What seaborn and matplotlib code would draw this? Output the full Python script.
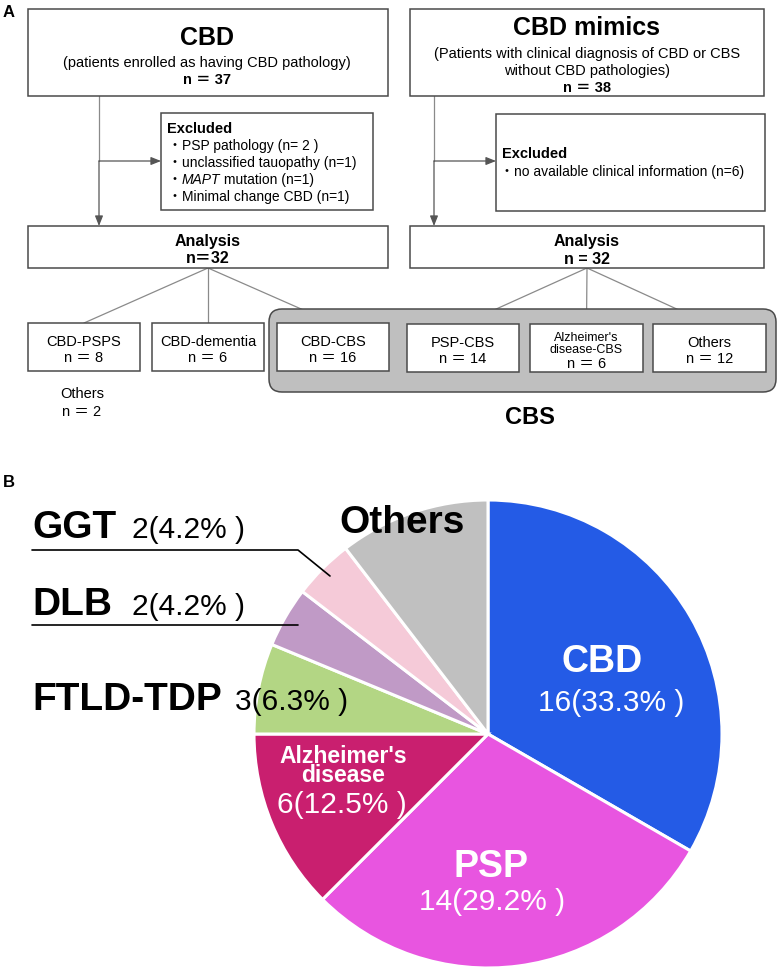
import math
import matplotlib
matplotlib.use('Agg')
import matplotlib.pyplot as plt
import seaborn as sns
from matplotlib.patches import Rectangle, FancyBboxPatch

sns.set_theme(style='white')
plt.rcParams['font.family'] = ['Liberation Sans', 'Noto Sans CJK JP']

# ---- data ----
# panel A
cbd_total = 37
mimic_total = 38
cbd_excluded = ['PSP pathology (n= 2 )', 'unclassified tauopathy (n=1)',
                'MAPT mutation (n=1)', 'Minimal change CBD (n=1)']
mimic_excluded = ['no available clinical information (n=6)']
cbd_analysis_n = 32
mimic_analysis_n = 32
cbd_groups = ['CBD-PSPS', 'CBD-dementia', 'CBD-CBS']
cbd_group_n = [8, 6, 16]
cbd_other_n = 2
mimic_groups = ['PSP-CBS', "Alzheimer's\ndisease-CBS", 'Others']
mimic_group_n = [14, 6, 12]

# panel B
pie_labels = ['CBD', 'PSP', "Alzheimer's\ndisease", 'FTLD-TDP', 'DLB', 'GGT', 'Others']
pie_counts = [16, 14, 6, 3, 2, 2, 5]
pie_colors = ['#245be6', '#e855e0', '#c91f6f', '#b3d684', '#c09ac6', '#f5cad8', '#c0c0c0']

edge = '#4a4a4a'
conn = '#8a8a8a'

fig = plt.figure(figsize=(7.79, 9.70), dpi=100)

# ---- pie (panel B) ----
ax_pie = fig.add_axes([254 / 779, 1 / 970, 468 / 779, 468 / 970])
ax_pie.pie(pie_counts, colors=pie_colors, startangle=90, counterclock=False,
           radius=1, wedgeprops=dict(edgecolor='white', linewidth=2.2))
ax_pie.set_xlim(-1, 1)
ax_pie.set_ylim(-1, 1)
ax_pie.axis('off')

# ---- overlay in pixel coordinates ----
ax = fig.add_axes([0, 0, 1, 1])
ax.set_xlim(0, 779)
ax.set_ylim(970, 0)
ax.axis('off')
ax.patch.set_visible(False)


def box(x0, y0, x1, y1, fc='white'):
    ax.add_patch(Rectangle((x0, y0), x1 - x0, y1 - y0, fc=fc, ec=edge, lw=1.1, zorder=2))


def line(xs, ys):
    ax.plot(xs, ys, color=conn, lw=0.9, zorder=1)


def arrow(x0, y0, x1, y1):
    ax.annotate('', xy=(x1, y1), xytext=(x0, y0),
                arrowprops=dict(arrowstyle='-|>,head_length=0.5,head_width=0.2',
                                color='#555555', lw=0.9, shrinkA=0, shrinkB=0), zorder=1)


def txt(x, y, s, size, bold=False, ha='center', color='black', **kw):
    # y is the baseline of the last line
    return ax.text(x, y, s, fontsize=size, fontweight='bold' if bold else 'normal',
                   ha=ha, va='baseline', color=color, zorder=3, **kw)


txt(3, 17, 'A', 12, bold=True, ha='left')
txt(3, 487, 'B', 12, bold=True, ha='left')

# CBS grey frame
ax.add_patch(FancyBboxPatch((269, 310), 507, 83, boxstyle='round,pad=0,rounding_size=13',
                            fc='#bfbfbf', ec=edge, lw=1.1, zorder=1.5))
txt(530, 424, 'CBS', 17, bold=True)

# left column
box(28, 10, 388, 97)
txt(207, 45, 'CBD', 18, bold=True)
txt(207, 67, '(patients enrolled as having CBD pathology)', 10.5)
txt(207, 84, f'n ＝ {cbd_total}', 10.5, bold=True)

line([99, 99], [97, 162])
arrow(99, 162, 99, 227)
arrow(99, 162, 161, 162)

box(161, 114, 373, 211)
txt(167, 133, 'Excluded', 10.5, bold=True, ha='left')
ex_y = [150, 167, 184, 201]
for s, y in zip(cbd_excluded, ex_y):
    txt(168, y, '・', 10, ha='left')
    if s.startswith('MAPT'):
        t = txt(182, y, 'MAPT', 10, ha='left', style='italic')
        fig.canvas.draw()
        bb = t.get_window_extent(fig.canvas.get_renderer())
        xe = ax.transData.inverted().transform((bb.x1, bb.y0))[0]
        txt(xe, y, ' ' + s[4:].strip(), 10, ha='left')
    else:
        txt(182, y, s, 10, ha='left')

box(28, 227, 388, 269)
txt(208, 246, 'Analysis', 11.5, bold=True)
txt(208, 263, f'n＝{cbd_analysis_n}', 11.5, bold=True)

cbd_box_x = [(28, 140), (152, 264), (277, 389)]
for (x0, x1), name, n in zip(cbd_box_x, cbd_groups, cbd_group_n):
    xc = (x0 + x1) / 2
    line([208, xc], [269, 324])
    box(x0, 324, x1, 372)
    txt(xc, 346, name, 10.5)
    txt(xc, 362, f'n ＝ {n}', 10.5)

txt(82, 398, 'Others', 10.5)
txt(82, 416, f'n ＝ {cbd_other_n}', 10.5)

# right column
box(410, 10, 764, 97)
txt(587, 35, 'CBD mimics', 18, bold=True)
txt(587, 58, '(Patients with clinical diagnosis of CBD or CBS', 10.5)
txt(587, 75, 'without CBD pathologies)', 10.5)
txt(587, 92, f'n ＝ {mimic_total}', 10.5, bold=True)

line([434, 434], [97, 162])
arrow(434, 162, 434, 227)
arrow(434, 162, 496, 162)

box(496, 115, 765, 212)
txt(502, 158, 'Excluded', 10.5, bold=True, ha='left')
for i, s in enumerate(mimic_excluded):
    txt(500, 176 + 17 * i, '・', 10, ha='left')
    txt(514, 176 + 17 * i, s, 10, ha='left')

box(410, 227, 764, 269)
txt(587, 246, 'Analysis', 11.5, bold=True)
txt(587, 264, f'n = {mimic_analysis_n}', 11.5, bold=True)

mimic_box_x = [(407, 519), (530, 643), (653, 766)]
for (x0, x1), name, n in zip(mimic_box_x, mimic_groups, mimic_group_n):
    xc = (x0 + x1) / 2
    line([587, xc], [269, 325])
    box(x0, 325, x1, 373)
    if '\n' in name:
        txt(xc, 353, name, 9, linespacing=0.95)
        txt(xc, 368, f'n ＝ {n}', 10.5)
    else:
        txt(xc, 347, name, 10.5)
        txt(xc, 363, f'n ＝ {n}', 10.5)

# ---- pie labels ----
total = sum(pie_counts)


def pct_label(n):
    p = math.floor(n / total * 1000 + 0.5) / 10
    return f'{n}({p:.1f}% )'


lab = dict(zip(pie_labels, pie_counts))
txt(602, 672, 'CBD', 27, bold=True, color='white')
txt(611, 711, pct_label(lab['CBD']), 21.5, color='white')
txt(491, 877, 'PSP', 27, bold=True, color='white')
txt(492, 910, pct_label(lab['PSP']), 21.5, color='white')
txt(343, 782, "Alzheimer's\ndisease", 16.5, bold=True, color='white', linespacing=0.78)
txt(342, 813, pct_label(lab["Alzheimer's\ndisease"]), 21.5, color='white')

txt(32, 710, 'FTLD-TDP', 28, bold=True, ha='left')
txt(235, 710, pct_label(lab['FTLD-TDP']), 21.5, ha='left')
txt(32, 615, 'DLB', 28, bold=True, ha='left')
txt(132, 615, pct_label(lab['DLB']), 21.5, ha='left')
txt(32, 538, 'GGT', 28, bold=True, ha='left')
txt(132, 538, pct_label(lab['GGT']), 21.5, ha='left')
txt(402, 533, 'Others', 28, bold=True)

ax.plot([32, 298, 330], [551, 551, 577], color='black', lw=1.2, zorder=3)
ax.plot([32, 298], [626, 626], color='black', lw=1.2, zorder=3)

fig.savefig('out.png', dpi=100)
